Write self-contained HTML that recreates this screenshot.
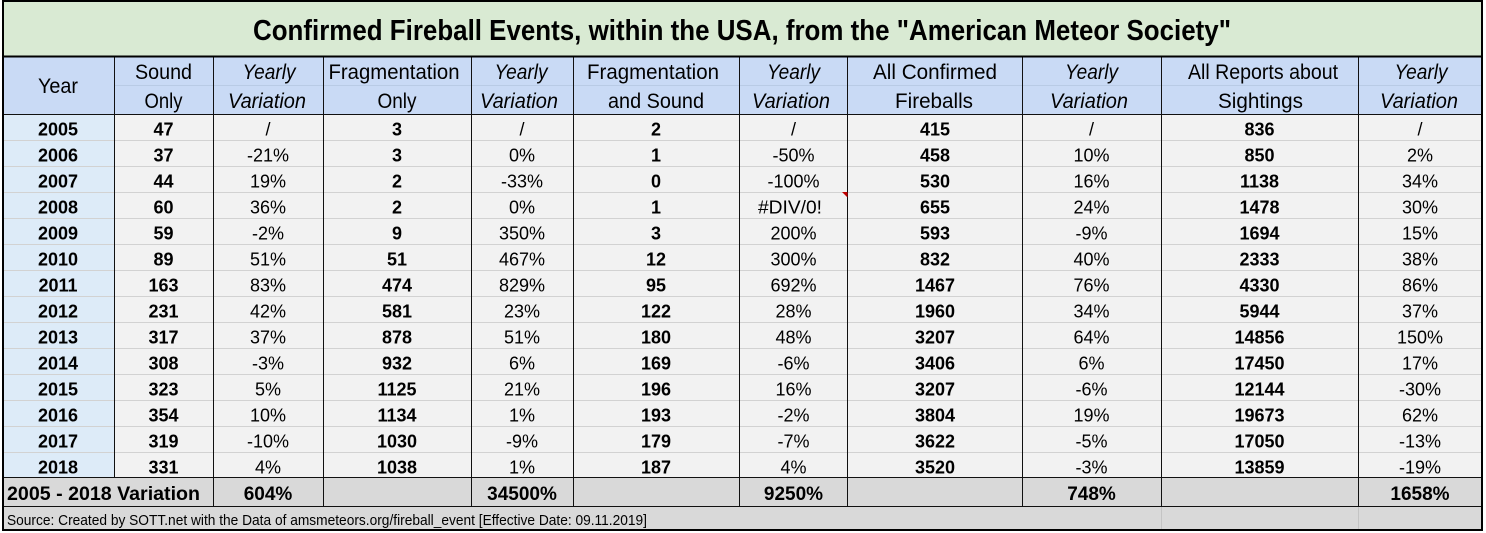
<!DOCTYPE html>
<html><head><meta charset="utf-8"><style>
html,body{margin:0;padding:0;background:#fff;}
svg{display:block;}
text{font-family:"Liberation Sans",Arial,sans-serif;fill:#000;}
.h{font-size:21px;}
.hi{font-size:21px;font-style:italic;}
.d{font-size:18px;}
.b{font-size:18px;font-weight:bold;}
.v{font-size:19px;font-weight:bold;}
</style></head><body>
<svg width="1486" height="533" viewBox="0 0 1486 533" xmlns="http://www.w3.org/2000/svg">
<rect x="0" y="0" width="1486" height="533" fill="#ffffff"/>
<rect x="2" y="1" width="1481" height="56" fill="#d9ead3"/>
<rect x="2" y="57" width="1481" height="57" fill="#c9daf5"/>
<rect x="2" y="114" width="1481" height="363" fill="#f2f2f2"/>
<rect x="2" y="114" width="112" height="363" fill="#ddebf8"/>
<rect x="2" y="477" width="1481" height="53" fill="#d9d9d9"/>

<g stroke="#b9cbe5" stroke-width="1">
<line x1="114" y1="85.5" x2="1483" y2="85.5"/>
</g>
<g stroke="#d2d2d2" stroke-width="1">
<line x1="2" y1="140.5" x2="1483" y2="140.5"/>
<line x1="2" y1="166.5" x2="1483" y2="166.5"/>
<line x1="2" y1="192.5" x2="1483" y2="192.5"/>
<line x1="2" y1="218.5" x2="1483" y2="218.5"/>
<line x1="2" y1="244.5" x2="1483" y2="244.5"/>
<line x1="2" y1="270.5" x2="1483" y2="270.5"/>
<line x1="2" y1="296.5" x2="1483" y2="296.5"/>
<line x1="2" y1="322.5" x2="1483" y2="322.5"/>
<line x1="2" y1="348.5" x2="1483" y2="348.5"/>
<line x1="2" y1="374.5" x2="1483" y2="374.5"/>
<line x1="2" y1="400.5" x2="1483" y2="400.5"/>
<line x1="2" y1="426.5" x2="1483" y2="426.5"/>
<line x1="2" y1="452.5" x2="1483" y2="452.5"/>
</g>
<g stroke="#c4c4c4" stroke-width="1">
<line x1="1161.5" y1="506" x2="1161.5" y2="530"/>
<line x1="1358.5" y1="506" x2="1358.5" y2="530"/>
</g>

<g stroke="#111" stroke-width="1">
<line x1="114.5" y1="57" x2="114.5" y2="477"/>
<line x1="213.5" y1="57" x2="213.5" y2="506"/>
<line x1="323.5" y1="57" x2="323.5" y2="506"/>
<line x1="471.5" y1="57" x2="471.5" y2="506"/>
<line x1="573.5" y1="57" x2="573.5" y2="506"/>
<line x1="739.5" y1="57" x2="739.5" y2="506"/>
<line x1="847.5" y1="57" x2="847.5" y2="506"/>
<line x1="1022.5" y1="57" x2="1022.5" y2="506"/>
<line x1="1161.5" y1="57" x2="1161.5" y2="506"/>
<line x1="1358.5" y1="57" x2="1358.5" y2="506"/>
<line x1="2" y1="114.5" x2="1483" y2="114.5"/>
<line x1="2" y1="477.5" x2="1483" y2="477.5"/>
<line x1="2" y1="506.5" x2="1483" y2="506.5"/>
</g>
<g stroke="#000" stroke-width="2" fill="none">
<line x1="2" y1="56.5" x2="1483" y2="56.5"/>
<rect x="3" y="1" width="1479" height="529"/>
</g>

<polygon points="842,192 847.5,192 847.5,197.5" fill="#c00000"/>

<text x="742" y="40" font-size="29" font-weight="bold" text-anchor="middle" textLength="978" lengthAdjust="spacingAndGlyphs">Confirmed Fireball Events, within the USA, from the &quot;American Meteor Society&quot;</text>

<g text-anchor="middle" lengthAdjust="spacingAndGlyphs">
<text class="h" x="58" y="93" textLength="40" lengthAdjust="spacingAndGlyphs">Year</text>
<text class="h" x="163.5" y="79" textLength="57" lengthAdjust="spacingAndGlyphs">Sound</text>
<text class="h" x="163.5" y="108" textLength="38" lengthAdjust="spacingAndGlyphs">Only</text>
<text class="hi" x="269" y="79" textLength="53" lengthAdjust="spacingAndGlyphs">Yearly</text>
<text class="hi" x="267" y="108" textLength="78" lengthAdjust="spacingAndGlyphs">Variation</text>
<text class="h" x="394" y="79" textLength="131" lengthAdjust="spacingAndGlyphs">Fragmentation</text>
<text class="h" x="397" y="108" textLength="39" lengthAdjust="spacingAndGlyphs">Only</text>
<text class="hi" x="521" y="79" textLength="53" lengthAdjust="spacingAndGlyphs">Yearly</text>
<text class="hi" x="519" y="108" textLength="78" lengthAdjust="spacingAndGlyphs">Variation</text>
<text class="h" x="653" y="79" textLength="132" lengthAdjust="spacingAndGlyphs">Fragmentation</text>
<text class="h" x="656" y="108" textLength="96" lengthAdjust="spacingAndGlyphs">and Sound</text>
<text class="hi" x="793.5" y="79" textLength="53" lengthAdjust="spacingAndGlyphs">Yearly</text>
<text class="hi" x="791" y="108" textLength="78" lengthAdjust="spacingAndGlyphs">Variation</text>
<text class="h" x="935" y="79" textLength="124" lengthAdjust="spacingAndGlyphs">All Confirmed</text>
<text class="h" x="934" y="108" textLength="78" lengthAdjust="spacingAndGlyphs">Fireballs</text>
<text class="hi" x="1091.5" y="79" textLength="53" lengthAdjust="spacingAndGlyphs">Yearly</text>
<text class="hi" x="1089" y="108" textLength="78" lengthAdjust="spacingAndGlyphs">Variation</text>
<text class="h" x="1263" y="79" textLength="150" lengthAdjust="spacingAndGlyphs">All Reports about</text>
<text class="h" x="1260.5" y="108" textLength="85" lengthAdjust="spacingAndGlyphs">Sightings</text>
<text class="hi" x="1421" y="79" textLength="53" lengthAdjust="spacingAndGlyphs">Yearly</text>
<text class="hi" x="1419" y="108" textLength="78" lengthAdjust="spacingAndGlyphs">Variation</text>
</g>

<g text-anchor="middle">
<g transform="translate(0,135.5)"><text class="b" x="58">2005</text><text class="b" x="163.5">47</text><text class="d" x="268">/</text><text class="b" x="397">3</text><text class="d" x="522">/</text><text class="b" x="656">2</text><text class="d" x="793.5">/</text><text class="b" x="935">415</text><text class="d" x="1091.5">/</text><text class="b" x="1259.5">836</text><text class="d" x="1420">/</text></g>
<g transform="translate(0,161.5)"><text class="b" x="58">2006</text><text class="b" x="163.5">37</text><text class="d" x="268">-21%</text><text class="b" x="397">3</text><text class="d" x="522">0%</text><text class="b" x="656">1</text><text class="d" x="793.5">-50%</text><text class="b" x="935">458</text><text class="d" x="1091.5">10%</text><text class="b" x="1259.5">850</text><text class="d" x="1420">2%</text></g>
<g transform="translate(0,187.5)"><text class="b" x="58">2007</text><text class="b" x="163.5">44</text><text class="d" x="268">19%</text><text class="b" x="397">2</text><text class="d" x="522">-33%</text><text class="b" x="656">0</text><text class="d" x="793.5">-100%</text><text class="b" x="935">530</text><text class="d" x="1091.5">16%</text><text class="b" x="1259.5">1138</text><text class="d" x="1420">34%</text></g>
<g transform="translate(0,213.5)"><text class="b" x="58">2008</text><text class="b" x="163.5">60</text><text class="d" x="268">36%</text><text class="b" x="397">2</text><text class="d" x="522">0%</text><text class="b" x="656">1</text><text class="d" x="790" textLength="64" lengthAdjust="spacingAndGlyphs">#DIV/0!</text><text class="b" x="935">655</text><text class="d" x="1091.5">24%</text><text class="b" x="1259.5">1478</text><text class="d" x="1420">30%</text></g>
<g transform="translate(0,239.5)"><text class="b" x="58">2009</text><text class="b" x="163.5">59</text><text class="d" x="268">-2%</text><text class="b" x="397">9</text><text class="d" x="522">350%</text><text class="b" x="656">3</text><text class="d" x="793.5">200%</text><text class="b" x="935">593</text><text class="d" x="1091.5">-9%</text><text class="b" x="1259.5">1694</text><text class="d" x="1420">15%</text></g>
<g transform="translate(0,265.5)"><text class="b" x="58">2010</text><text class="b" x="163.5">89</text><text class="d" x="268">51%</text><text class="b" x="397">51</text><text class="d" x="522">467%</text><text class="b" x="656">12</text><text class="d" x="793.5">300%</text><text class="b" x="935">832</text><text class="d" x="1091.5">40%</text><text class="b" x="1259.5">2333</text><text class="d" x="1420">38%</text></g>
<g transform="translate(0,291.5)"><text class="b" x="58">2011</text><text class="b" x="163.5">163</text><text class="d" x="268">83%</text><text class="b" x="397">474</text><text class="d" x="522">829%</text><text class="b" x="656">95</text><text class="d" x="793.5">692%</text><text class="b" x="935">1467</text><text class="d" x="1091.5">76%</text><text class="b" x="1259.5">4330</text><text class="d" x="1420">86%</text></g>
<g transform="translate(0,317.5)"><text class="b" x="58">2012</text><text class="b" x="163.5">231</text><text class="d" x="268">42%</text><text class="b" x="397">581</text><text class="d" x="522">23%</text><text class="b" x="656">122</text><text class="d" x="793.5">28%</text><text class="b" x="935">1960</text><text class="d" x="1091.5">34%</text><text class="b" x="1259.5">5944</text><text class="d" x="1420">37%</text></g>
<g transform="translate(0,343.5)"><text class="b" x="58">2013</text><text class="b" x="163.5">317</text><text class="d" x="268">37%</text><text class="b" x="397">878</text><text class="d" x="522">51%</text><text class="b" x="656">180</text><text class="d" x="793.5">48%</text><text class="b" x="935">3207</text><text class="d" x="1091.5">64%</text><text class="b" x="1259.5">14856</text><text class="d" x="1420">150%</text></g>
<g transform="translate(0,369.5)"><text class="b" x="58">2014</text><text class="b" x="163.5">308</text><text class="d" x="268">-3%</text><text class="b" x="397">932</text><text class="d" x="522">6%</text><text class="b" x="656">169</text><text class="d" x="793.5">-6%</text><text class="b" x="935">3406</text><text class="d" x="1091.5">6%</text><text class="b" x="1259.5">17450</text><text class="d" x="1420">17%</text></g>
<g transform="translate(0,395.5)"><text class="b" x="58">2015</text><text class="b" x="163.5">323</text><text class="d" x="268">5%</text><text class="b" x="397">1125</text><text class="d" x="522">21%</text><text class="b" x="656">196</text><text class="d" x="793.5">16%</text><text class="b" x="935">3207</text><text class="d" x="1091.5">-6%</text><text class="b" x="1259.5">12144</text><text class="d" x="1420">-30%</text></g>
<g transform="translate(0,421.5)"><text class="b" x="58">2016</text><text class="b" x="163.5">354</text><text class="d" x="268">10%</text><text class="b" x="397">1134</text><text class="d" x="522">1%</text><text class="b" x="656">193</text><text class="d" x="793.5">-2%</text><text class="b" x="935">3804</text><text class="d" x="1091.5">19%</text><text class="b" x="1259.5">19673</text><text class="d" x="1420">62%</text></g>
<g transform="translate(0,447.5)"><text class="b" x="58">2017</text><text class="b" x="163.5">319</text><text class="d" x="268">-10%</text><text class="b" x="397">1030</text><text class="d" x="522">-9%</text><text class="b" x="656">179</text><text class="d" x="793.5">-7%</text><text class="b" x="935">3622</text><text class="d" x="1091.5">-5%</text><text class="b" x="1259.5">17050</text><text class="d" x="1420">-13%</text></g>
<g transform="translate(0,473.5)"><text class="b" x="58">2018</text><text class="b" x="163.5">331</text><text class="d" x="268">4%</text><text class="b" x="397">1038</text><text class="d" x="522">1%</text><text class="b" x="656">187</text><text class="d" x="793.5">4%</text><text class="b" x="935">3520</text><text class="d" x="1091.5">-3%</text><text class="b" x="1259.5">13859</text><text class="d" x="1420">-19%</text></g>
</g>

<text class="v" x="7" y="500" textLength="193" lengthAdjust="spacingAndGlyphs">2005 - 2018 Variation</text>
<g text-anchor="middle">
<text class="v" x="268" y="500">604%</text>
<text class="v" x="522" y="500">34500%</text>
<text class="v" x="793.5" y="500">9250%</text>
<text class="v" x="1091.5" y="500">748%</text>
<text class="v" x="1420" y="500">1658%</text>
</g>

<text x="7" y="525" font-size="15" textLength="640" lengthAdjust="spacingAndGlyphs" fill="#222">Source: Created by SOTT.net with the Data of amsmeteors.org/fireball_event [Effective Date: 09.11.2019]</text>
</svg>
</body></html>
